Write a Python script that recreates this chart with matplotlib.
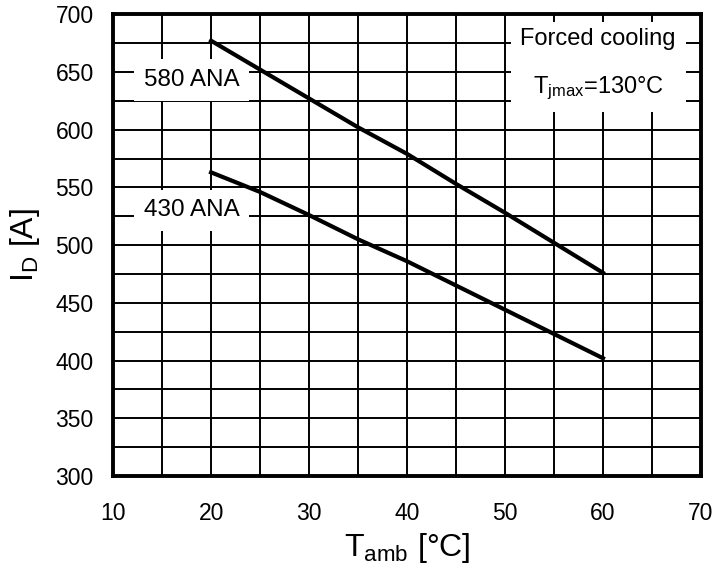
import matplotlib
matplotlib.use('Agg')
from matplotlib import pyplot as plt
import numpy as np

plt.rcParams['font.family'] = ['Liberation Sans', 'DejaVu Sans']
plt.rcParams['mathtext.fontset'] = 'custom'
plt.rcParams['mathtext.rm'] = 'Liberation Sans'
plt.rcParams['mathtext.it'] = 'Liberation Sans'

# ambient temperature [degC]
t_amb = [20, 25, 30, 35, 40, 45, 50, 55, 60]
# drain current [A]
i_580 = [677, 652, 627, 602, 579, 553, 528, 502, 476]
i_430 = [563, 546, 526, 505, 486, 465, 444, 423, 402]

fig = plt.figure(figsize=(7.16, 5.68), dpi=100)
ax = fig.add_axes([0.158, 0.162, 0.821, 0.813])

ax.set_xlim(10, 70)
ax.set_ylim(300, 700)
ax.set_xticks(np.arange(10, 71, 10))
ax.set_xticks(np.arange(15, 70, 10), minor=True)
ax.set_yticks(np.arange(300, 701, 50))
ax.set_yticks(np.arange(325, 700, 50), minor=True)
ax.grid(True, which='both', color='black', linewidth=1.4)
ax.tick_params(which='both', length=0, labelsize=16.5)
ax.tick_params(axis='y', pad=14)
ax.tick_params(axis='x', pad=19)
for s in ax.spines.values():
    s.set_linewidth(2.8)

ax.plot(t_amb, i_580, color='black', linewidth=3, zorder=5)
ax.plot(t_amb, i_430, color='black', linewidth=3, zorder=5)

box = dict(facecolor='white', edgecolor='none', pad=7)
ax.text(18, 643, '580 ANA', fontsize=17.5, ha='center', va='center', bbox=box, zorder=4)
ax.text(18, 530, '430 ANA', fontsize=17.5, ha='center', va='center', bbox=box, zorder=4)
ax.text(59.5, 656, 'Forced cooling\n\nT$_{\\mathrm{jmax}}$=130°C', fontsize=17,
        ha='center', va='center', linespacing=1.1,
        bbox=dict(facecolor='white', edgecolor='none', pad=7), zorder=4)

ax.set_xlabel('T$_{\\mathrm{amb}}$ [°C]', fontsize=23, labelpad=4)
ax.set_ylabel('I$_{\\mathrm{D}}$ [A]', fontsize=23, labelpad=10)

fig.savefig('out.png', dpi=100)
